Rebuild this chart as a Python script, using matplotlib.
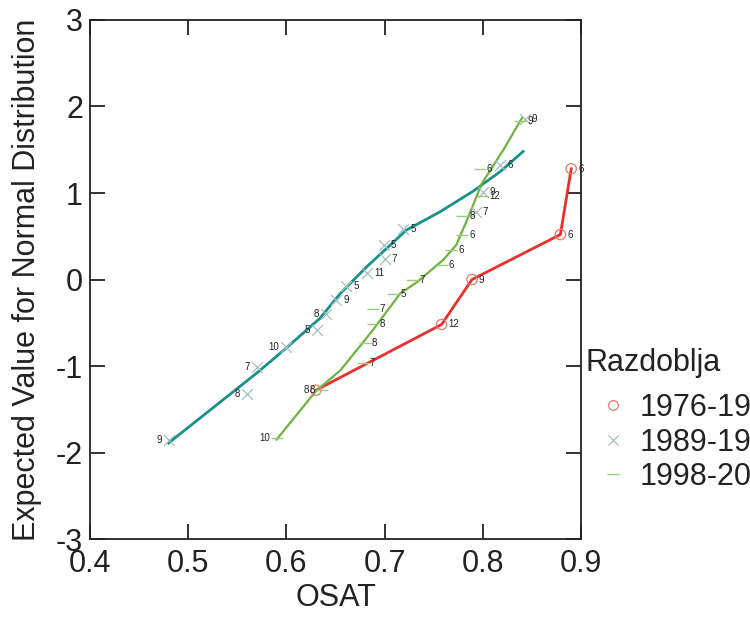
import matplotlib
matplotlib.use("Agg")
import matplotlib.pyplot as plt
from matplotlib.lines import Line2D

plt.rcParams['font.family'] = ['Liberation Sans', 'DejaVu Sans']
plt.rcParams['axes.unicode_minus'] = False

# Razdoblje 1976-19 (krugovi)
red_x = [0.630, 0.758, 0.789, 0.879, 0.890]
red_y = [-1.28, -0.52, 0.00, 0.52, 1.28]
red_lab = [8, 12, 9, 6, 6]

# Razdoblje 1989-19 (x)
teal_x = [0.480, 0.560, 0.570, 0.600, 0.631, 0.640, 0.651, 0.661,
          0.682, 0.700, 0.699, 0.719, 0.793, 0.800, 0.818, 0.843]
teal_y = [-1.86, -1.32, -1.01, -0.78, -0.58, -0.40, -0.24, -0.08,
          0.08, 0.24, 0.40, 0.58, 0.78, 1.01, 1.32, 1.86]
teal_lab = [9, 8, 7, 10, 5, 8, 9, 5, 11, 7, 5, 5, 7, 9, 6, 9]

# Razdoblje 1998-20 (crtice)
green_x = [0.590, 0.636, 0.678, 0.680, 0.688, 0.688, 0.709, 0.728,
           0.758, 0.768, 0.779, 0.779, 0.800, 0.797, 0.838]
green_y = [-1.83, -1.28, -0.97, -0.73, -0.52, -0.34, -0.17, 0.00,
           0.17, 0.34, 0.52, 0.73, 0.97, 1.28, 1.83]
green_lab = [10, 8, 7, 8, 8, 7, 5, 7, 6, 6, 6, 8, 12, 6, 9]

# izgladjene linije (ocitane sa slike)
teal_line_x = [0.480, 0.570, 0.597, 0.634, 0.655, 0.682, 0.704, 0.722, 0.756, 0.790, 0.818, 0.841]
teal_line_y = [-1.89, -1.08, -0.82, -0.45, -0.16, 0.15, 0.38, 0.57, 0.78, 1.02, 1.25, 1.48]
green_line_x = [0.590, 0.630, 0.655, 0.687, 0.716, 0.733, 0.760, 0.773, 0.784, 0.799, 0.821, 0.840]
green_line_y = [-1.85, -1.29, -1.05, -0.60, -0.16, -0.03, 0.23, 0.40, 0.69, 1.11, 1.50, 1.87]

periods = ["1976-19", "1989-19", "1998-20"]
x_ticks = [0.4, 0.5, 0.6, 0.7, 0.8, 0.9]
y_ticks = [-3, -2, -1, 0, 1, 2, 3]

RED, RED_M = "#e8302e", "#e57a6c"
TEAL, TEAL_M = "#17918a", "#a3bfbd"
GREEN, GREEN_M = "#6db33f", "#9ccc80"

fig = plt.figure(figsize=(7.5, 6.19), dpi=100)
ax = fig.add_axes([0.12, 0.1292, 0.6547, 0.8385])

ax.plot(teal_line_x, teal_line_y, color=TEAL, lw=2.0, zorder=2)
ax.plot(red_x, red_y, color=RED, lw=2.0, zorder=3)
ax.plot(green_line_x, green_line_y, color=GREEN, lw=1.6, zorder=4)

ax.scatter(red_x, red_y, marker="o", s=55, facecolors="none", edgecolors=RED_M, linewidths=0.9, zorder=5)
ax.scatter(teal_x, teal_y, marker="x", s=60, color=TEAL_M, linewidths=0.9, zorder=5)
ax.scatter(green_x, green_y, marker="_", s=70, color=GREEN_M, linewidths=1.0, zorder=5)

# oznake tocaka: lijevo od x<0.65, inace desno
for xs, ys, labs in [(red_x, red_y, red_lab), (teal_x, teal_y, teal_lab), (green_x, green_y, green_lab)]:
    for x, y, t in zip(xs, ys, labs):
        if x < 0.65:
            ax.annotate(str(t), (x, y), xytext=(-5, 0), textcoords="offset points",
                        ha="right", va="center", fontsize=7, color="#222222", zorder=6)
        else:
            ax.annotate(str(t), (x, y), xytext=(5, 0), textcoords="offset points",
                        ha="left", va="center", fontsize=7, color="#222222", zorder=6,
                        annotation_clip=False)

ax.set_xlim(0.4, 0.9)
ax.set_ylim(-3, 3)
ax.set_xticks(x_ticks)
ax.set_xticklabels([str(v) for v in x_ticks])
ax.set_yticks(y_ticks)
ax.tick_params(direction="in", length=11, width=1.3, top=True, right=True,
               labelsize=22, colors="#222222")
ax.tick_params(axis="x", pad=7)
ax.tick_params(axis="y", pad=5)
for s in ax.spines.values():
    s.set_linewidth(1.3)
    s.set_color("#222222")

ax.set_xlabel("OSAT", fontsize=22, labelpad=3, color="#222222")
ax.set_ylabel("Expected Value for Normal Distribution", fontsize=22, labelpad=10, color="#222222")

handles = [
    Line2D([], [], marker="o", ls="none", markersize=7, markerfacecolor="none", markeredgecolor=RED_M, markeredgewidth=0.9),
    Line2D([], [], marker="x", ls="none", markersize=7, color=TEAL_M, markeredgewidth=0.9),
    Line2D([], [], marker="_", ls="none", markersize=9, color=GREEN_M, markeredgewidth=1.0),
]
fig.text(0.78, 1 - 363 / 619, "Razdoblja", fontsize=22, ha="left", va="center", color="#222222")
fig.legend(handles, periods, loc="upper left", bbox_to_anchor=(0.80, 1 - 393 / 619),
           frameon=False, fontsize=22, borderpad=0, borderaxespad=0,
           handlelength=0.85, handletextpad=0.45, labelspacing=0.15, labelcolor="#222222")

fig.savefig("out.png", dpi=100)
